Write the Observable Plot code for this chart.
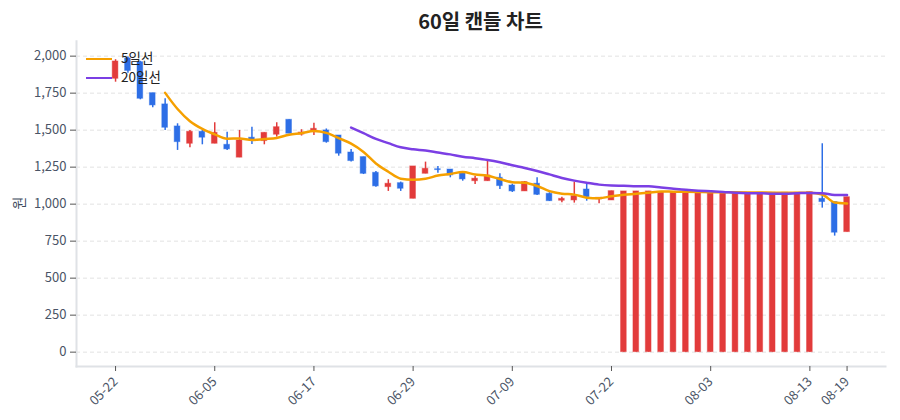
<!DOCTYPE html>
<html><head><meta charset="utf-8">
<script src="https://cdn.jsdelivr.net/npm/d3@7"></script>
<script src="https://cdn.jsdelivr.net/npm/@observablehq/plot@0.6"></script>
<style>
body{margin:0;background:#fff;font-family:"Noto Sans CJK KR","Noto Sans",sans-serif;}
#wrap{position:relative;width:900px;height:420px;overflow:hidden;}
#title{position:absolute;left:76px;width:809px;top:7px;text-align:center;font-size:20px;font-weight:bold;color:#222;line-height:28px;}
#chart{position:absolute;left:0;top:36px;}
#ylab{position:absolute;left:12px;top:193px;font-size:14px;color:#3c4a5c;transform:rotate(-90deg);}
.leg{position:absolute;left:86px;font-size:13.5px;color:#222;height:18px;line-height:18px;}
.leg span.sw{display:inline-block;width:26px;height:0;border-top:2.5px solid;vertical-align:middle;margin-right:9px;}
</style></head>
<body>
<div id="wrap">
<div id="title">60일 캔들 차트</div>
<div id="chart"></div>
<div id="ylab">원</div>
<div class="leg" style="top:48px"><span class="sw" style="border-color:#f5a000"></span>5일선</div>
<div class="leg" style="top:67px"><span class="sw" style="border-color:#7b3fe4"></span>20일선</div>
</div>
<script>
const opens  = [1847,1985,1959,1750,1674,1525,1408,1489,1408,1401,1314,1449,1426,1469,1570,1470,1491,1498,1464,1349,
                1318,1212,1115,1142,1036,1205,1236,1234,1209,1155,1155,1178,1126,1086,1138,1070,1023,1025,1099,1032,
                1025,0,0,0,0,0,0,0,0,0,0,0,0,0,0,0,0,1036,1014,811];
const closes = [1964,1900,1712,1667,1516,1419,1489,1449,1482,1370,1430,1435,1482,1520,1476,1484,1509,1419,1341,1291,
                1205,1120,1138,1104,1255,1239,1230,1194,1167,1172,1194,1122,1086,1149,1063,1020,1036,1054,1047,1043,
                1088,1086,1086,1086,1081,1081,1081,1081,1081,1081,1077,1077,1077,1077,1077,1077,1081,1014,807,1047];
const highs  = [1976,1995,1965,1750,1712,1543,1498,1498,1550,1486,1498,1520,1482,1550,1570,1503,1547,1508,1464,1370,
                1318,1221,1165,1149,1255,1284,1255,1234,1209,1187,1288,1205,1135,1153,1178,1077,1047,1149,1138,1043,
                1088,1086,1086,1086,1081,1081,1081,1081,1081,1081,1077,1077,1077,1077,1077,1077,1081,1408,1014,1047];
const lows   = [1824,1885,1705,1651,1497,1363,1381,1401,1408,1363,1314,1403,1401,1453,1476,1460,1464,1412,1324,1284,
                1200,1115,1086,1086,1036,1205,1209,1178,1155,1132,1155,1099,1079,1086,1059,1018,1009,1007,1020,1003,
                1025,0,0,0,0,0,0,0,0,0,0,0,0,0,0,0,0,973,784,811];
const tickIndex  = [0,8,16,24,32,40,48,56,59];
const tickLabels = ["05-22","06-05","06-17","06-29","07-09","07-22","08-03","08-13","08-19"];
const yTicks = [0,250,500,750,1000,1250,1500,1750,2000];

const RED = "#e23b3b", BLUE = "#2d6ee6";
const data = closes.map((c,i)=>({i, open:opens[i], close:c, high:highs[i], low:lows[i], col: c>=opens[i]?RED:BLUE}));

const chart = Plot.plot({
  width:900, height:384,
  marginTop:4.7, marginBottom:54, marginLeft:76, marginRight:15,
  x:{type:"linear", domain:[-3.15,62.1]},
  y:{domain:[-97,2101]},
  color:{type:"identity"},
  style:{fontFamily:'"Noto Sans CJK KR","Noto Sans",sans-serif', fontSize:"13px", color:"#4a5466", background:"white"},
  marks:[
    Plot.gridY(yTicks,{stroke:"#e2e2e2", strokeOpacity:1, strokeDasharray:"4,3"}),
    Plot.frame({anchor:"left", stroke:"#dfe2e6", strokeWidth:2}),
    Plot.frame({anchor:"bottom", stroke:"#dfe2e6", strokeWidth:2}),
    Plot.axisY({ticks:yTicks, tickFormat:d3.format(","), tickSize:6, tickPadding:4, label:null, stroke:"#555"}),
    Plot.axisX({ticks:tickIndex, tickFormat:i=>tickLabels[tickIndex.indexOf(i)], tickRotate:-45, tickSize:5, tickPadding:8, label:null, stroke:"#555"}),
    Plot.ruleX(data,{x:"i", y1:"low", y2:"high", stroke:"col", strokeWidth:1.5}),
    Plot.rect(data,{x1:d=>d.i-0.23, x2:d=>d.i+0.23, y1:"open", y2:"close", fill:"col", stroke:"col", strokeOpacity:0.45, strokeWidth:1}),
    Plot.lineY(data, Plot.windowY({k:5, anchor:"end", strict:true},{x:"i", y:"close", stroke:"#f5a000", strokeWidth:2.5, curve:"monotone-x"})),
    Plot.lineY(data, Plot.windowY({k:20, anchor:"end", strict:true},{x:"i", y:"close", stroke:"#7b3fe4", strokeWidth:2.5, curve:"monotone-x"}))
  ]
});
document.getElementById("chart").appendChild(chart);
</script>
</body></html>
